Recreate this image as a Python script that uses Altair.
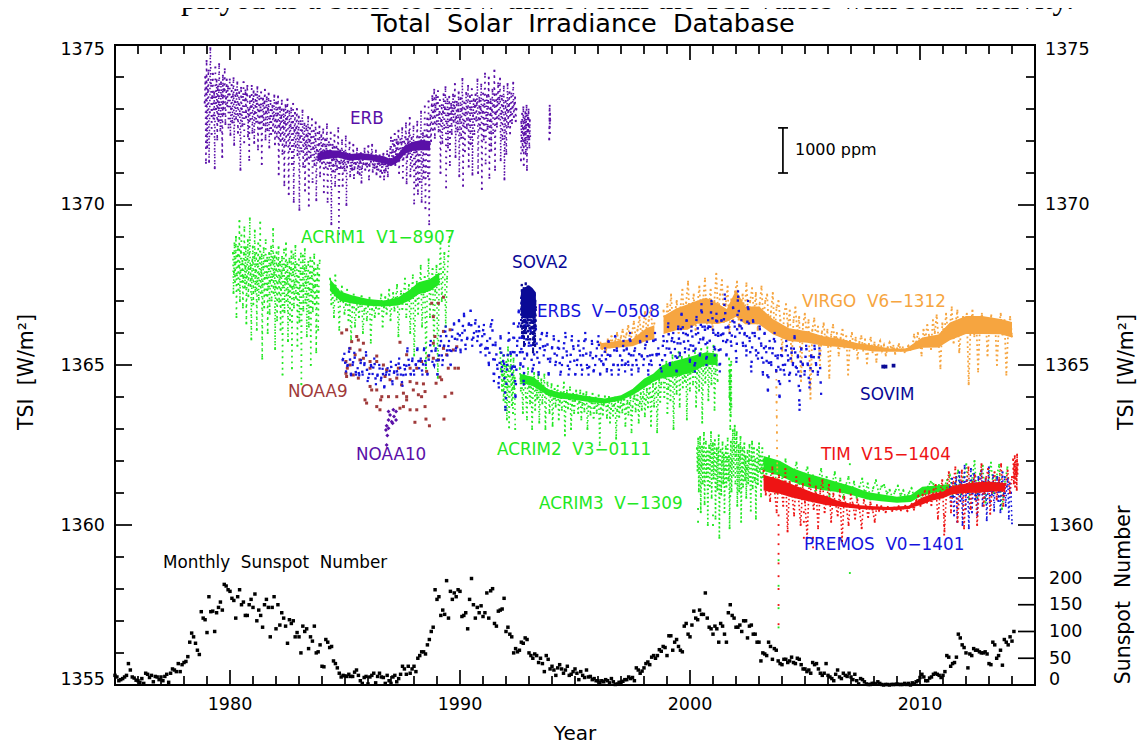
import altair as alt
import numpy as np
import pandas as pd

PURPLE = "#5a10a8"; GREEN = "#22e822"; RED = "#ee1414"; ORANGE = "#f6a540"
BLUE = "#1414dc"; NAVY = "#0a0a96"; BROWN = "#a03a3a"; BLACK = "#000000"
FONT = "DejaVu Sans"

# Cloud series: (first year, last year, TSI-1300 in hundredths)
ERB = [(1978.9, 1992.45, [
 7320,7400,7132,7450,7180,7360,7420,7135,7290,7490,7380,7222,7340,7410,7271,7350,7115,7430,7300,7390,7205,7370,7262,7440,7312,7233,7383,7345,7150,7404,7284,7362,7424,7253,7333,7392,
 7310,7370,7242,7346,7392,7219,7302,7375,7258,7340,7396,7188,7322,7360,7270,7347,7383,7226,7315,7352,7285,7110,7366,7301,7248,7338,7384,7196,7327,7358,7274,7344,7372,7215,7298,7141,
 7340,7268,7309,7372,7226,7330,7355,7194,7287,7346,7260,7316,7368,7174,7295,7340,7238,7305,7352,7128,7276,7332,7250,7318,7360,7205,7290,7336,7234,7300,7348,7180,7270,7325,7222,7296,
 7310,7232,7278,7342,7190,7265,7320,7214,7286,7339,7096,7248,7305,7200,7272,7326,7160,7244,7298,7062,7255,7312,7186,7268,7330,7220,7034,7292,7175,7246,7302,7128,7258,7316,7010,7234,
 7288,7182,7240,7300,7156,7224,7276,6985,7210,7262,7168,7232,7295,7120,7205,7254,7045,7188,7246,7142,7216,7275,6998,7198,7240,7150,7212,7268,7072,7180,7232,7125,7206,7258,7015,7172,
 7225,7140,7190,7245,7090,7165,7218,7130,7184,7236,7040,7158,7205,7118,7176,7252,7010,7148,7196,7122,7170,7226,6940,7140,7188,7105,7164,7218,7060,7135,7182,7112,7158,7240,6910,7130,
 7170,7116,7150,7202,7060,7128,7166,7108,7145,7214,7000,7120,7160,7132,7150,7195,7090,7122,7156,7110,7140,7188,7084,7118,7150,7128,7146,7176,7100,7120,7145,7096,7134,7162,7070,7115,
 7142,7128,7152,7176,7110,7126,7148,7120,7156,7184,7080,7122,7150,7135,7160,7188,7104,7126,7148,7116,7142,7170,7096,7120,7138,7110,7130,7155,7088,7106,7132,7100,7128,7160,7080,7102,
 7130,7108,7140,7168,7090,7124,7155,7142,7175,7210,7130,7165,7200,7150,7188,7222,7125,7170,7204,7148,7190,7232,7100,7160,7205,7155,7194,7240,7085,7146,7198,7158,7212,7255,7068,7150,
 7206,7160,7225,7272,7090,7150,7210,7120,7180,7245,7005,7128,7196,7060,7166,7260,7035,7140,7212,7072,7188,7292,7010,7135,7224,7085,7202,7308,6990,7120,7218,7270,7090,7324,6940,7190,
 7280,7200,7310,7340,7235,7290,7360,7210,7305,7342,7252,7318,7356,7230,7284,7328,7100,7262,7312,7194,7290,7346,7240,7300,7368,7055,7255,7330,7180,7285,7338,7125,7268,7316,7222,7295,
 7345,7260,7310,7378,7150,7272,7322,7230,7296,7352,7090,7268,7334,7210,7300,7394,7060,7255,7320,7168,7288,7350,7240,7305,7372,7120,7265,7340,7190,7298,7362,7095,7280,7330,7222,7310,
 7345,7264,7318,7392,7100,7270,7335,7240,7300,7376,7050,7288,7348,7205,7315,7410,7130,7280,7342,7238,7320,7398,7085,7262,7330,7170,7295,7360,7225,7312,7420,7110,7284,7346,7245,7322,
 7380,7270,7330,7395,7140,7285,7340,7206,7310,7370,7080,7268,7325,7160,7296,7378,7245,7310,7352,7224,7290,7348,7256,7306,7382,7275,7318,7336,7262,7300]),
 (1992.65, 1993.05, [7140,7260,7200,7285,7170,7240,7305,7125,7225,7270,7195,7290,7160,7250,7310,7110,7230,7280,7205,7298,7245,7180,7265,7215]),
 (1993.88, 1993.92, [7205,7240,7270,7295,7310,7255,7225,7285,7265])]

ERB_CORE = [(1983.8,7170,7130),(1984.2,7180,7135),(1984.7,7178,7140),(1985.2,7166,7132),(1985.7,7170,7134),(1986.2,7164,7132),(1986.7,7160,7122),(1987.0,7150,7114),(1987.3,7168,7125),(1987.6,7195,7150),(1987.9,7205,7160),(1988.3,7214,7160),(1988.7,7210,7160)]

ACRIM1 = [(1980.13, 1983.9, [
 6850,6725,6790,6880,6760,6820,6900,6650,6780,6840,6870,6735,6810,6950,6700,6790,6855,6905,6760,6825,6680,6772,6845,6930,6742,6805,6868,6630,6775,6830,6890,6715,6800,6850,6958,6748,
 6812,6580,6770,6825,6870,6690,6780,6838,6920,6730,6795,6850,6610,6762,6815,6880,6705,6785,6832,6945,6725,6790,6845,6520,6752,6806,6865,6680,6770,6825,6890,6718,6780,6835,6600,6745,
 6800,6850,6660,6762,6815,6870,6702,6775,6825,6925,6725,6788,6840,6550,6742,6796,6852,6640,6755,6810,6868,6698,6768,6822,6610,6735,6785,6838,6470,6748,6802,6860,6665,6758,6812,6880,
 6700,6766,6820,6575,6728,6778,6832,6640,6745,6798,6855,6490,6738,6790,6845,6680,6752,6806,6872,6710,6762,6815,6560,6725,6775,6830,6635,6742,6792,6848,6440,6732,6785,6842,6670,6748,
 6800,6862,6695,6756,6808,6590,6720,6770,6822,6620,6738,6788,6835,6500,6728,6778,6825,6668,6742,6795,6845,6690,6750,6800,6540,6716,6766,6812,6610,6730,6780,6826])]
ACRIM1_B = [(1984.35, 1989.55, [
 6770,6690,6725,6650,6780,6705,6735,6610,6715,6745,6700,6660,6690,6735,6640,6695,6580,6680,6720,6620,6675,6700,6650,6690,6715,6600,6670,6692,6640,6685,6710,6570,6675,6695,6650,6680,
 6700,6660,6692,6720,6620,6680,6712,6660,6695,6735,6640,6690,6725,6670,6710,6750,6590,6695,6730,6675,6720,6770,6650,6705,6750,6600,6720,6780,6530,6700,6760,6660,6738,6810,6620,6720,
 6775,6490,6745,6830,6650,6760,6800,6560,6730,6810,6460,6760,6880,6700,6790,6850,6620,6770,6840,6900])]
ACRIM1_CORE = [(1984.35,6775,6725),(1984.8,6735,6695),(1985.3,6722,6688),(1986,6710,6682),(1986.7,6705,6680),(1987.3,6715,6682),(1987.8,6740,6695),(1988.2,6765,6715),(1988.7,6775,6725),(1989.1,6795,6745)]

ACRIM2 = [(1991.75, 1992.4, [6540,6480,6510,6420,6470,6530,6390,6455,6500,6360,6445,6510,6330,6430,6555,6465,6305,6415,6490,6530,6440,6375,6475,6350,6520,6425,6460,6300])]
ACRIM2_B = [(1992.6, 2001.2, [
 6490,6420,6450,6350,6470,6440,6400,6330,6490,6430,6380,6460,6300,6425,6475,6360,6440,6395,6470,6320,6415,6455,6380,6435,6470,6300,6410,6445,
 6420,6350,6405,6440,6310,6395,6425,6370,6410,6435,6330,6385,6415,6360,6405,6445,6280,6385,6420,6365,6395,6430,6300,6375,6410,6350,6390,6420,
 6395,6350,6385,6420,6330,6375,6410,6355,6390,6415,6300,6370,6400,6345,6385,6410,6335,6368,6398,6350,6380,6405,6250,6365,6392,6345,6378,6402,
 6385,6335,6372,6400,6320,6362,6390,6342,6375,6398,6270,6360,6385,6338,6370,6392,6352,6378,6406,6310,6365,6388,6345,6378,6400,6290,6368,6395,
 6405,6355,6392,6420,6320,6380,6412,6360,6398,6435,6340,6392,6425,6368,6410,6450,6310,6400,6440,6370,6425,6465,6290,6410,6455,6385,6440,6490,
 6470,6400,6460,6510,6350,6430,6490,6390,6470,6530,6300,6440,6510,6410,6490,6540,6370,6470,6525,6430,6500,6450,6515,6330,6480,6530,6420,6495,
 6520,6440,6490,6545,6370,6475,6530,6420,6510,6550,6320,6480,6530,6445,6500,6555,6390,6490,6520,6440,6510,6560,6360,6480,6530,6450])]
ACRIM2_SPIKE = [(2001.7, 2001.8, [6520,6450,6400,6480,6360,6430,6500,6300,6410,6470,6340,6390,6450,6510,6370])]
ACRIM2_CORE = [(1992.6,6480,6440),(1993.2,6470,6425),(1993.8,6430,6400),(1994.3,6420,6390),(1995,6415,6385),(1995.8,6405,6378),(1996.3,6400,6375),(1997,6410,6385),(1997.5,6430,6400),(1998,6465,6420),(1998.4,6480,6440),(1998.8,6510,6450),(1999.3,6525,6450),(2000,6540,6460),(2000.7,6550,6490),(2001.2,6545,6490)]

ACRIM3 = [(2000.3, 2003.2, [
 6240,6170,6270,6105,6205,6275,6040,6185,6245,6130,6215,6288,6065,6200,6260,6150,6230,6000,6178,6248,6122,6210,6290,6085,6195,6255,6145,6225,6265,6020,
 6170,6240,6110,6205,6280,5960,6160,6235,6095,6195,6258,6130,6220,6040,6175,6245,6120,6205,6270,6140,6215,5990,6185,6260,6105,6200,6296,6155,6235,6310,
 6130,6220,6290,6060,6180,6250,6105,6210,6275,6010,6170,6240,6120,6195,6255,6140,6215,6085,6178,6232,6130,6200,6250,6150,6045,6210,6260,6115,6190,6240,
 6140,6205,6020,6175,6235,6128,6198,6255,6168,6215,6090,6180,6240,6150,6205])]
ACRIM3_B = [(2003.2, 2013.8, [
 6200,6160,6215,6120,6180,6100,6175,6135,6205,6150,6110,6165,6195,6130,6100,6160,6180,6120,6155,6095,6140,6175,6115,6150,6090,6130,6165,6105,6145,6085,
 6125,6150,6100,6135,6085,6120,6145,6095,6130,6080,6115,6140,6100,6120,6125,6098,6110,6085,6105,6122,6092,6108,6082,6100,6115,6086,6098,6076,6092,6108,
 6120,6135,6128,6110,6125,6100,6122,6140,6155,6090,6130,6170,6095,6150,6190,6080,6140,6200,6085,6160,6185,6070,6135,6195,6100,6150,6188,6050,6130,6180])]
ACRIM3_CORE = [(2003.2,6220,6165),(2003.9,6205,6150),(2004.5,6180,6130),(2005.1,6165,6115),(2005.8,6150,6105),(2006.5,6135,6100),(2007.1,6122,6090),(2007.7,6105,6078),(2008.3,6098,6072),(2009,6090,6068),(2009.6,6096,6070),(2010.1,6122,6090),(2010.7,6125,6100),(2011.3,6130,6105)]

TIM = [(2003.2, 2014.0, [
 6170,6095,6140,6075,6180,6110,6040,6155,6120,6060,6175,5980,6135,6100,6030,6150,6088,6000,6128,6070,5960,6145,6095,6050,6120,5990,6105,6140,6040,6085,
 6125,6010,6098,6068,6030,6110,5950,6088,6058,6000,6095,6065,6020,6080,6050,5990,6078,6058,6025,6070,6048,6010,6062,6045,6058,6048,6040,6056,6050,6044,
 6054,6048,6058,6046,6052,6060,6044,6056,6065,6048,6075,6090,6060,6095,6105,6070,6105,6062,6110,6125,6020,6100,6140,5980,6110,6165,6040,6130,6180,6010,
 6105,6170,5990,6120,6180,6050,6135,6155,6000,6125,6190,6060,6145,6175,6035,6120,6165,6080,6140,6190,6060,6125,6170,6100,6150])]
TIM_END = [(2014.05, 2014.25, [6205,6175,6130,6190,6150,6215,6120,6165,6200,6145,6180,6110,6220,6160,6190])]
TIM_CORE = [(2003.2,6165,6100),(2003.9,6150,6090),(2004.4,6135,6080),(2004.9,6120,6072),(2005.4,6105,6065),(2005.9,6095,6058),(2006.4,6080,6055),(2006.9,6070,6052),(2007.4,6064,6048),(2008,6060,6046),(2008.6,6058,6045),(2009,6060,6045),(2009.5,6062,6048),(2009.8,6075,6055),(2010.1,6090,6060),(2010.5,6100,6072),(2011,6108,6080),(2011.4,6125,6092),(2012,6135,6095),(2012.6,6140,6095),(2013.1,6140,6100),(2013.7,6135,6100)]

PREMOS = [(2011.3, 2014.0, [
 6120,6060,6145,6090,6030,6130,6150,6010,6105,6165,6075,6135,6000,6110,6185,6050,6140,6100,5990,6125,6175,6040,6110,6160,6080,6130,6030,6150,6095,6120,
 6170,6060,6135,6085,6145,6015,6105,6180,6070,6125,6095,6155,6045,6130,6115,6150,6075,6140,6040,6125,6165,6090,6150,6060,6120,6145,6020,6130,6100,6005])]

VIRGO = [(1996.1, 1998.45, [6570,6550,6565,6540,6580,6555,6590,6560,6575,6600,6565,6585,6610,6575,6595,6622,6570,6600,6635,6585,6610,6650,6590,6620,6665,6600,6640,6680,6610,6630])]
VIRGO_B = [(1998.85, 2014.0, [
 6670,6615,6690,6640,6720,6620,6660,6700,6600,6680,6735,6640,6695,6760,6625,6670,6720,6610,6690,6745,6650,6705,6770,6630,6680,6735,6610,6700,6785,6655,
 6720,6765,6635,6690,6745,6600,6705,6640,6730,6760,6620,6680,6720,6660,6755,6640,6700,6740,6660,6725,6610,6690,6745,6640,6700,6720,6610,6665,6725,6600,
 6680,6700,6640,6545,6660,6690,6620,6670,6510,6640,6680,6600,6650,6450,6625,6660,6595,6640,6395,6610,6645,6585,6620,6500,6600,6630,6570,6610,6460,6595,
 6625,6565,6600,6530,6585,6610,6555,6590,6470,6575,6600,6550,6585,6520,6572,6590,6545,6580,6505,6565,6585,6540,6570,6510,6560,6575,6545,6562,6530,6555,
 6570,6548,6560,6535,6552,6565,6545,6555,6540,6550,6560,6548,6552,6595,6565,6600,6575,6530,6610,6580,6625,6590,6550,6640,6600,6655,6580,6490,6630,6590,
 6660,6600,6620,6680,6570,6630,6670,6540,6610,6650,6600,6660,6440,6620,6670,6590,6640,6480,6625,6660,6610,6645,6530,6620,6655,6600,6640,6500,6615,6660,
 6595,6640,6470,6610,6650,6590])]
VIRGO_SPIKE = [(2003.75, 2003.8, [6480,6430,6385,6340,6290,6240,6180,6130])]
VIRGO_CORE = [[(1996.1,6570,6547),(1997.5,6584,6556),(1998.1,6620,6570),(1998.45,6630,6575)],
 [(1998.85,6660,6590),(1999.4,6685,6600),(1999.9,6700,6600),(2000.3,6710,6620),(2000.7,6720,6620),(2001.2,6700,6620),(2001.6,6680,6630),(2002,6745,6640),(2002.4,6690,6620),(2003,6690,6620),(2003.6,6650,6590),(2004.3,6620,6570),(2005.1,6610,6565),(2005.8,6594,6556),(2006.5,6585,6553),(2007.3,6570,6547),(2008,6563,6540),(2008.7,6553,6540),(2009.4,6553,6540),(2010.1,6590,6550),(2010.8,6600,6550),(2011.3,6640,6570),(2012,6660,6590),(2012.7,6660,6590),(2013.5,6650,6590),(2014,6640,6580)]]

ERBS = [(1984.9, 2005.7, [
 6515,6535,6480,6500,6552,6468,6500,6538,6470,6490,6468,6515,6470,6500,6540,6450,6472,6500,6472,6520,6440,6470,6500,6452,6488,6430,6470,6490,6470,6510,
 6440,6480,6500,6470,6520,6470,6435,6500,6470,6552,6500,6470,6520,6470,6500,6552,6490,6520,6470,6552,6500,6470,6530,6575,6510,6500,6552,6470,6530,6590,
 6500,6560,6620,6530,6575,6500,6610,6630,6545,6580,6640,6540,6600,6660,6550,6585,6630,6670,6560,6600,6640,6575,6620,6540,6590,6625,6530,6575,6500,6620,
 6640,6450,6570,6500,6430,6590,6480,6530,6360,6500,6600,6540,6470,6630,6400,6560,6670,6500,6590,6440,6640,6530,6560,6610,6480,6500,6640,6540,6470,6580,
 6600,6530,6560,6600,6470,6520,6552,6590,6500,6530,6575,6470,6500,6552,6600,6530,6470,6510,6590,6550,6470,6500,6575,6530,6470,6552,6600,6500,6470,6530,
 6575,6480,6500,6552,6590,6470,6530,6500,6552,6480,6575,6530,6470,6500,6590,6552,6470,6530,6500,6575,6480,6552,6500,6600,6470,6530,6552,6500,6480,6575,
 6530,6500,6552,6590,6470,6530,6500,6575,6600,6530,6552,6500,6480,6590,6530,6552,6630,6500,6575,6600,6550,6480,6620,6530,6660,6600,6540,6640,6575,6510,
 6620,6560,6480,6650,6600,6530,6690,6580,6620,6500,6640,6575,6700,6610,6530,6660,6600,6480,6640,6575,6720,6530,6620,6600,6560,6680,6620,6510,6730,6600,
 6640,6560,6600,6530,6700,6575,6480,6640,6600,6530,6520,6620,6560,6470,6600,6540,6420,6575,6500,6552,6600,6480,6530,6400,6552,6500,6470,6575,6530,6450,
 6552,6500,6590,6470,6530,6360,6552,6500,6470,6560,6500,6430,6530,6480,6560,6500,6470,6552,6410])]

SOVA2 = [(1992.65, 1993.3, [
 6620,6710,6670,6750,6600,6690,6730,6650,6590,6700,6740,6560,6680,6720,6640,6610,6700,6755,6600,6670,6725,6660,6690,6630,6745,6580,6700,6660,6730,6680,
 6615,6705,6650,6580,6690,6735,6640,6600,6700,6660,6725,6600,6675,6540,6710,6640,6690,6570,6720,6660,6560,6700,6620,6680])]
SOVA2_CORE = [(1992.65,6740,6650),(1992.8,6745,6640),(1993.0,6755,6640),(1993.15,6745,6650),(1993.3,6730,6660)]
SOVIM_YEAR = [2008.4, 2008.5, 2008.85]
SOVIM_TSI = [1364.95, 1364.95, 1364.98]

NOAA9_YEAR = [1985.07,1984.86,1985.51,1985.29,1985.58,1985.8,1985.22,1985.65,1985.44,1985.8,1985.04,1985.65,1986.38,1986.09,1986.38,1985.22,1985.1,1985.04,1985.07,1985.36,1985.58,1986.09,1986.67,1986.81,1986.74,1986.96,1987.25,1986.09,1986.38,1986.16,1986.6,1986.55,1985.87,1985.94,1986.38,1986.52,1986.89,1987.25,1987.54,1987.68,1987.46,1987.83,1988.12,1988.41,1987.97,1988.19,1988.48,1988.33,1987.68,1987.39,1987.54,1987.83,1988.12,1988.48,1988.04,1988.52,1988.67,1989.3,1989.64,1989.35,1988.96,1989.13,1989.2,1989.49,1989.78,1989.93,1989.42,1989.06,1988.84,1988.62,1988.33,1988.12,1987.83,1987.32,1988.84,1989.28,1989.71,1989.86,1989.57,1989.28,1988.91,1988.77,1989.06,1989.28,1988.84,1987.39,1987.68,1988.55]
NOAA9_TSI = [1366.10,1366.0,1365.89,1365.73,1365.78,1365.68,1365.52,1365.47,1365.32,1365.21,1365.11,1365.16,1365.28,1365.11,1365.11,1365.0,1364.9,1364.74,1364.64,1364.69,1364.59,1364.9,1365.0,1364.85,1364.64,1364.54,1364.59,1364.33,1364.22,1364.22,1364.01,1363.91,1363.91,1363.81,1363.7,1363.6,1364.01,1364.01,1364.12,1364.01,1364.38,1364.48,1364.43,1364.41,1364.22,1364.07,1364.17,1364.01,1363.91,1363.65,1363.7,1363.6,1363.6,1363.7,1363.21,1363.31,1363.1,1363.31,1364.12,1364.01,1364.43,1364.62,1364.54,1364.9,1364.9,1364.9,1365.32,1365.16,1365.21,1365.28,1365.11,1364.9,1364.9,1364.9,1365.68,1365.52,1365.47,1365.57,1366.10,1366.05,1365.89,1366.93,1366.93,1367.12,1366.51,1365.71,1365.32,1364.8]

NOAA10_YEAR = [1986.89,1987.1,1987.22,1986.96,1987.13,1986.89,1987.03,1987.22,1987.07,1986.81,1986.89,1986.78,1986.84,1986.81]
NOAA10_TSI = [1363.55,1363.6,1363.55,1363.44,1363.39,1363.28,1363.23,1363.28,1363.18,1363.1,1363.02,1362.97,1362.8,1362.5]

TIM_DROP_YEAR = [2003.85,2003.85,2003.85,2003.85,2003.85,2003.85,2003.85,2003.85,2003.85,2003.85,2004.95,2004.95,2004.95,2005.35,2005.35,2011.05,2011.05,2011.05]
TIM_DROP_TSI = [1360.3,1360,1359.7,1359.4,1359.1,1358.8,1358.4,1358,1357.5,1356.9,1360.4,1360.1,1359.6,1359.6,1359.3,1360.3,1360.0,1359.7]
GREEN_DROP_YEAR = [2003.85,2003.85,2003.85,2003.85,2006.95,2006.95,2001.75,2001.0,2001.0,2000.35,2000.35]
GREEN_DROP_TSI = [1358.9,1358.1,1357.4,1356.8,1361.9,1358.5,1360.9,1360.3,1360,1360.5,1360.1]

SUNSPOT = [18,15,8,10,12,15,18,40,28,15,13,9, 8,5,12,3,22,20,14,18,6,16,15,10,
 15,8,16,20,5,22,30,28,25,40,25,38, 42,44,53,80,97,90,78,65,57,137,125,122,
 98,165,137,138,100,135,145,155,140,188,185,178, 175,162,158,125,165,178,150,155,130,130,150,160,
 145,170,120,140,130,108,150,160,145,90,145,165, 105,150,112,135,125,110,78,122,115,120,90,98,
 90,60,110,100,105,68,90,82,110,60,62,75, 35,34,85,80,70,72,45,40,32,22,15,18,
 17,16,20,16,16,24,28,18,8,3,14,16, 2,15,18,22,4,16,22,15,14,3,18,8,
 3,15,18,6,12,20,35,30,20,35,22,30, 35,25,50,55,62,62,58,75,85,100,108,178,
 160,165,130,140,132,195,125,175,160,172,165,178, 175,128,130,135,105,160,199,150,125,145,135,148,
 128,135,172,125,176,180,115,110,138,140,142,162, 100,108,95,90,60,68,62,65,80,78,88,85,
 60,55,50,58,55,42,50,40,25,55,48,30, 35,28,18,32,38,30,22,28,35,18,20,25,
 30,22,10,25,18,14,28,15,16,10,12,8, 8,5,8,6,10,8,4,12,6,1,2,5,
 5,7,10,10,15,12,14,8,32,28,22,26, 32,40,43,38,52,55,50,55,66,63,72,70,
 55,92,92,65,80,85,72,65,62,110,115,95, 90,112,138,125,122,140,132,132,172,125,108,105,
 95,110,105,80,115,110,95,80,135,150,130,125, 108,108,112,100,120,120,88,110,112,95,95,80,
 80,45,60,58,55,80,72,48,68,65,45,40, 38,48,48,42,45,52,42,40,50,48,38,30,
 30,25,28,22,42,38,40,30,22,18,22,40, 18,15,12,8,20,28,15,12,22,18,16,22,
 15,10,20,8,2,12,10,6,2,1,1,3, 3,2,6,3,1,0,1,1,0,1,1,1,
 2,1,1,1,3,1,3,0,4,2,6,8, 14,20,15,8,8,13,15,20,22,20,18,14,
 18,25,55,52,35,40,42,52,95,88,75,70, 60,32,58,55,68,65,65,62,60,60,62,58,
 40,38,80,75,50,55,65,37,85,80,75,90, 82,100]
SUNSPOT_START = 1975.0

YEAR_MAJOR = [1980, 1990, 2000, 2010]
YEAR_MINOR = [y for y in range(1976, 2015) if y % 10]
TSI_MAJOR = [1355, 1360, 1365, 1370, 1375]
TSI_MINOR = [v for v in range(1356, 1375) if v % 5]
TSI_MINOR_RIGHT = [v for v in range(1361, 1375) if v % 5]
SS_TICKS = [50, 100, 150, 200]

X0, X1, Y0, Y1 = 1975, 2015, 1355, 1375
XS = alt.Scale(domain=[X0, X1], nice=False, zero=False)
YS = alt.Scale(domain=[Y0, Y1], nice=False, zero=False)
SS_MAX = 1196
SSS = alt.Scale(domain=[0, SS_MAX], nice=False, zero=False)
W, H = 920, 640
OX, OY = 115, 45
PX_YEAR, PX_TSI = W / (X1 - X0), H / (Y1 - Y0)
SS_TO_TSI = (Y1 - Y0) / SS_MAX
HALF_X, HALF_Y = 0.85 / PX_YEAR, 0.85 / PX_TSI


def xenc():
    return alt.X("x:Q", scale=XS, axis=None)


def yenc():
    return alt.Y("y:Q", scale=YS, axis=None)


def cloud(segs, color, gap=5.0, width=1.6, dot=3.5):
    """Samples as dots, with successive samples joined by a dotted stroke for the speckle of daily data."""
    xs, ys, seg = [], [], []
    for k, (a, b, vals) in enumerate(segs):
        xs += list(np.linspace(a, b, len(vals)))
        ys += [1300 + v / 100 for v in vals]
        seg += [k] * len(vals)
    df = pd.DataFrame({"x": xs, "y": ys, "s": seg})
    line = alt.Chart(df).mark_line(color=color, opacity=1, strokeWidth=width, strokeDash=[width, gap]).encode(
        x=xenc(), y=yenc(), detail="s:N")
    dots = alt.Chart(df).mark_square(size=dot, color=color, opacity=1).encode(x=xenc(), y=yenc())
    return alt.layer(line, dots)


def pts(xs, ys, color, size=3.5, shape="square"):
    df = pd.DataFrame({"x": xs, "y": ys})
    return alt.Chart(df).mark_point(size=size, color=color, shape=shape, filled=True, opacity=1).encode(x=xenc(), y=yenc())


def core(rows, color, keep=0.6):
    mids = [(r[1] + r[2]) / 2 for r in rows]
    half = [(r[1] - r[2]) / 2 * keep for r in rows]
    df = pd.DataFrame({"x": [r[0] for r in rows],
                       "y": [1300 + (m + h) / 100 for m, h in zip(mids, half)],
                       "y2": [1300 + (m - h) / 100 for m, h in zip(mids, half)]})
    return alt.Chart(df).mark_area(color=color, opacity=1).encode(x=xenc(), y=yenc(), y2="y2:Q")


def label(text, px, py, color=BLACK, size=16.8, align="left", angle=0, font=FONT, baseline="middle"):
    df = pd.DataFrame({"t": [text]})
    kw = {"angle": angle} if angle else {}
    return alt.Chart(df).mark_text(color=color, fontSize=size, align=align, baseline=baseline, font=font, **kw).encode(
        x=alt.value(px - OX), y=alt.value(py - OY), text="t:N")


layers = []
layers += [cloud(ERB, PURPLE, gap=4.4), core(ERB_CORE, PURPLE, keep=0.6)]
layers += [cloud(ACRIM1, GREEN, gap=4.2), cloud(ACRIM1_B, GREEN, gap=3.5), core(ACRIM1_CORE, GREEN, keep=0.75)]
layers += [cloud(ACRIM2, GREEN, gap=3.5), cloud(ACRIM2_B, GREEN, gap=3.2), cloud(ACRIM2_SPIKE, GREEN, gap=4), core(ACRIM2_CORE, GREEN, keep=0.65)]
layers += [cloud(ACRIM3, GREEN, gap=2.6), cloud(ACRIM3_B, GREEN, gap=2.5), core(ACRIM3_CORE, GREEN, keep=0.85), pts(GREEN_DROP_YEAR, GREEN_DROP_TSI, GREEN)]
layers += [pts(NOAA9_YEAR, NOAA9_TSI, BROWN, size=9)]
layers += [cloud(VIRGO, ORANGE, gap=2.5, width=1.8), cloud(VIRGO_B, ORANGE, gap=3, width=1.8), cloud(VIRGO_SPIKE, ORANGE, gap=6)]
layers += [core(c, ORANGE, keep=0.8) for c in VIRGO_CORE]
layers += [cloud(ERBS, BLUE, gap=12, width=2.4, dot=5)]
layers += [pts(NOAA10_YEAR, NOAA10_TSI, PURPLE, size=16, shape="diamond")]
layers += [cloud(SOVA2, NAVY, gap=3.5, width=2, dot=5), core(SOVA2_CORE, NAVY, keep=0.9), pts(SOVIM_YEAR, SOVIM_TSI, NAVY, size=14)]
layers += [cloud(PREMOS, BLUE, gap=3)]
layers += [cloud(TIM, RED, gap=2.5), cloud(TIM_END, RED, gap=2.5), core(TIM_CORE, RED, keep=0.75), pts(TIM_DROP_YEAR, TIM_DROP_TSI, RED)]

ss = pd.DataFrame({"x": [SUNSPOT_START + i / 12 for i in range(len(SUNSPOT))], "v": SUNSPOT})
layers.append(alt.Chart(ss).mark_square(size=12, color="black", opacity=1).encode(
    x=xenc(), y=alt.Y("v:Q", scale=SSS, axis=None)))

# All ticks and the 1000 ppm bar in one table of (x, x2, y, y2) rectangles
MAJOR_X, MINOR_X, MAJOR_Y, MINOR_Y = 17 / PX_YEAR, 9 / PX_YEAR, 15 / PX_TSI, 9 / PX_TSI
BAR_YEAR, BAR_LO, BAR_HI = 2004.04, 1371.0, 1372.41
CAP_A, CAP_B = 2003.83, 2004.26
rows = []
for vals, dy in ((YEAR_MAJOR, MAJOR_Y), (YEAR_MINOR, MINOR_Y)):
    for v in vals:
        rows.append((v - HALF_X, v + HALF_X, Y0, Y0 + dy))
        rows.append((v - HALF_X, v + HALF_X, Y1 - dy, Y1))
for v in TSI_MAJOR[1:-1]:
    rows.append((X0, X0 + MAJOR_X, v - HALF_Y, v + HALF_Y))
    rows.append((X1 - MAJOR_X, X1, v - HALF_Y, v + HALF_Y))
for v in TSI_MINOR:
    rows.append((X0, X0 + MINOR_X, v - HALF_Y, v + HALF_Y))
for v in TSI_MINOR_RIGHT:
    rows.append((X1 - MINOR_X, X1, v - HALF_Y, v + HALF_Y))
for v in SS_TICKS:
    c = Y0 + v * SS_TO_TSI
    rows.append((X1 - MAJOR_X, X1, c - HALF_Y, c + HALF_Y))
rows.append((BAR_YEAR - HALF_X, BAR_YEAR + HALF_X, BAR_LO, BAR_HI))
rows.append((CAP_A, CAP_B, BAR_LO - HALF_Y, BAR_LO + HALF_Y))
rows.append((CAP_A, CAP_B, BAR_HI - HALF_Y, BAR_HI + HALF_Y))
tdf = pd.DataFrame(rows, columns=["tx", "tx2", "ty", "ty2"]).astype(float)
layers.append(alt.Chart(tdf).mark_rect(color="black", opacity=1, stroke=None).encode(
    x=alt.X("tx:Q", scale=XS, axis=None), x2="tx2:Q",
    y=alt.Y("ty:Q", scale=YS, axis=None), y2="ty2:Q"))

# Tick labels
for v, py in zip(TSI_MAJOR, [680, 526, 366, 205, 50]):
    layers.append(label(str(v), 105, py, align="right", size=17.5))
for v, px, py in zip([1360, 1365, 1370, 1375], [1049, 1045, 1045, 1045], [526, 366, 205, 50]):
    layers.append(label(str(v), px, py, size=17.5))
for v, py in zip([0, 50, 100, 150, 200], [680, 659, 632, 605, 579]):
    layers.append(label(str(v), 1049, py, size=17.5))
for yr in YEAR_MAJOR:
    layers.append(label(str(yr), 115 + 23 * (yr - 1975), 705, align="center", size=17.5))

NB = "\u00a0\u00a0"
layers += [
    label("played as a basis to show that overall the TSI varies with solar activity.", 181, 9, size=31.5, font="Liberation Serif", baseline="alphabetic"),
    label(f"Total{NB}Solar{NB}Irradiance{NB}Database", 583, 24, size=25.5, align="center"),
    label("ERB", 350, 119, PURPLE),
    label(f"ACRIM1{NB}V1\u22128907", 301, 238, GREEN),
    label("SOVA2", 512, 263, NAVY),
    label(f"ERBS{NB}V\u22120508", 537, 312, BLUE),
    label(f"VIRGO{NB}V6\u22121312", 802, 302, ORANGE),
    label("NOAA9", 288, 392, BROWN),
    label("NOAA10", 356, 455, PURPLE),
    label(f"ACRIM2{NB}V3\u22120111", 497, 450, GREEN),
    label(f"ACRIM3{NB}V\u22121309", 539, 504, GREEN),
    label(f"TIM{NB}V15\u22121404", 821, 455, RED),
    label(f"PREMOS{NB}V0\u22121401", 804, 545, BLUE),
    label("SOVIM", 860, 395, NAVY),
    label(f"Monthly{NB}Sunspot{NB}Number", 163, 563, size=16.8),
    label("1000 ppm", 795, 150, size=16),
    label("Year", 575, 734, align="center", size=20),
    label(f"TSI{NB}[W/m\u00b2]", 27, 372, align="center", size=20.5, angle=270),
    label(f"TSI{NB}[W/m\u00b2]", 1127, 372, align="center", size=20.5, angle=270),
    label(f"Sunspot{NB}Number", 1124, 595, align="center", size=20.5, angle=270),
]

chart = alt.layer(*layers).resolve_scale(y="independent").properties(
    width=W, height=H,
    padding={"left": 107, "top": 37, "right": 103, "bottom": 60},
    autosize=alt.AutoSizeParams(type="none"),
    background="white",
).configure_view(stroke="black", strokeWidth=2)

chart.save("out.html", embed_options={"renderer": "svg", "actions": False})
